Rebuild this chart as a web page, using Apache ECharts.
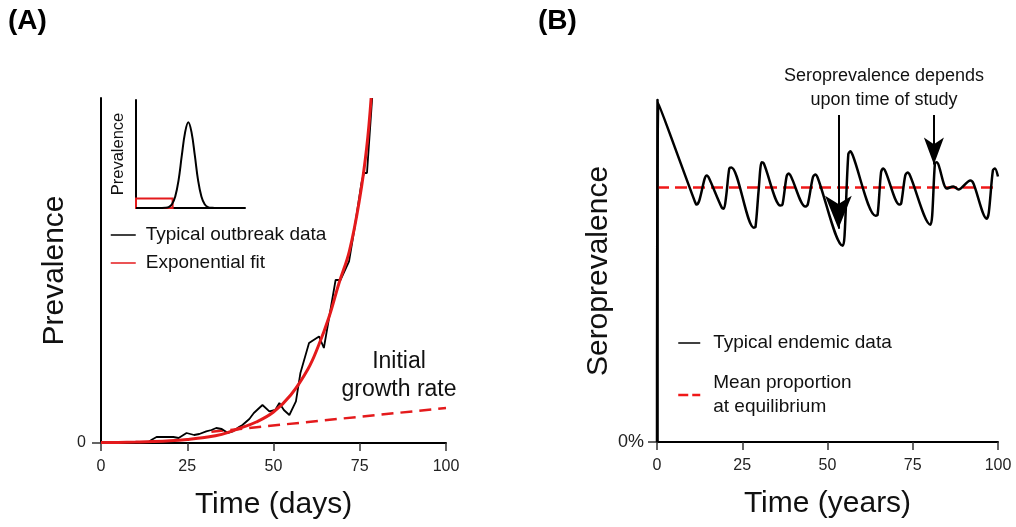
<!DOCTYPE html>
<html><head><meta charset="utf-8">
<script src="https://cdn.jsdelivr.net/npm/echarts@6/dist/echarts.min.js"></script>
<style>html,body{margin:0;padding:0;background:#fff}#c{width:1016px;height:527px}</style>
</head><body><div id="c"></div>
<script>
// ---------- data ----------
const xTicks = [0, 25, 50, 75, 100];

// Panel A: typical outbreak data [day, prevalence]
const outbreakData = [[0,0],[5,0.4],[10,0.8],[14,1.2],[14.7,3.3],[16.1,6],[21,6],[22.5,5],[24.8,10],[27,8],[28.5,9],[30.5,11.6],[32,13],[33.4,15],[35,14],[36.8,10],[38.2,11.6],[40,16],[41,18],[43,24],[44.3,30],[46.8,38],[48.8,31.6],[50.5,33],[51.7,40],[53,33],[54.6,28],[56.5,41.6],[57.8,70],[60.3,100],[63.2,106.6],[64.6,95],[68,163],[69.4,163],[71.9,181.6],[73.5,215],[75.5,260],[76.2,270],[77.1,270],[78.6,345]];
// Panel A: exponential fit
const expFit = [[0,0.4],[5,0.6],[10,1],[15,1.5],[20,2.3],[25,3.6],[30,5.5],[35,8.6],[40,14.5],[45,21],[50,31],[55,48],[60,74],[63,97],[66,125],[69,160],[72,192],[75,245],[77,295],[78.3,345]];
// Panel A: initial growth rate (dashed)
const growthLine = [[32,11.2],[100,35]];
// Panel A inset: whole epidemic curve
const insetCurve = [[0,0],[20,0],[27,0.3],[30,1.1],[33,4.4],[36,13.5],[39,32],[42,61],[45,88],[48,100],[51,88],[54,61],[57,32],[60,13.5],[63,4.4],[66,1.1],[70,0.2],[75,0],[100,0]];
const insetBox = [[0,0],[33.6,11]];

// Panel B: typical endemic data [year, seroprevalence]
const endemicData = [[0,0],[0.4,337],[11,240],[11.6,236],[12.4,240],[14,262],[14.6,265],[15.3,262],[19,233],[19.6,232],[20.3,245],[21.2,272],[21.8,273],[28.4,213],[28.9,214],[29.8,250],[30.7,278],[31.3,277],[36.2,235],[36.8,236],[38,264],[38.6,267],[39.3,264],[43.5,234],[44.2,236],[45.7,263],[46.4,266],[47.1,263],[54.5,195],[55,205],[56.1,286],[56.7,289],[57.4,285],[64.1,225],[64.7,226],[65.7,268],[66.3,272],[67,269],[71.1,236],[71.6,237],[72.8,265],[73.5,268],[74.2,265],[80.2,216],[80.7,225],[81.5,277],[82,278],[85,252],[86.9,254],[88.4,251],[91.9,260],[92.8,257],[96.7,222],[97.3,228],[98.5,270],[99.1,272],[100,264]];
const meanLevel = [[0,253],[100,253]];
const arrow1 = [[53.2,325],[53.2,212]];
const arrow2 = [[81.2,325],[81.2,276]];

// ---------- chart ----------
const FONT = "'Liberation Sans', Arial, Helvetica, sans-serif";
const RED_A = '#e41a1c';
const RED_B = '#f01818';
const chart = echarts.init(document.getElementById('c'), null, {renderer: 'canvas'});

function xAxisFor(grid, name) {
  return {
    type: 'value', gridIndex: grid, min: xTicks[0], max: xTicks[xTicks.length-1], interval: 25,
    axisLine: {show: true, onZero: false, lineStyle: {color: '#000', width: 2}},
    axisTick: {show: true, length: 8, lineStyle: {color: '#333', width: 1.5}},
    axisLabel: {fontSize: 16, color: '#222', margin: 16, fontFamily: FONT},
    splitLine: {show: false},
    name: name, nameLocation: 'middle', nameGap: 47,
    nameTextStyle: {fontSize: 30, color: '#111', fontFamily: FONT}
  };
}

const option = {
  animation: false,
  backgroundColor: '#fff',
  textStyle: {fontFamily: FONT},
  grid: [
    {left: 101, top: 98, width: 345, height: 345},
    {left: 136, top: 100, width: 109, height: 108},
    {left: 657, top: 100, width: 341, height: 342}
  ],
  xAxis: [
    xAxisFor(0, 'Time (days)'),
    {type: 'value', gridIndex: 1, min: 0, max: 100,
     axisLine: {show: true, onZero: false, lineStyle: {color: '#000', width: 2}},
     axisTick: {show: false}, axisLabel: {show: false}, splitLine: {show: false}},
    xAxisFor(2, 'Time (years)')
  ],
  yAxis: [
    {type: 'value', gridIndex: 0, min: 0, max: 345,
     axisLine: {show: true, lineStyle: {color: '#000', width: 2}},
     axisTick: {show: true, length: 9, customValues: [0], lineStyle: {color: '#333', width: 1.5}},
     axisLabel: {customValues: [0], fontSize: 16, color: '#222', margin: 15, fontFamily: FONT},
     splitLine: {show: false},
     name: 'Prevalence', nameLocation: 'middle', nameRotate: 90, nameGap: 31,
     nameTextStyle: {fontSize: 30, color: '#111', fontFamily: FONT}},
    {type: 'value', gridIndex: 1, min: 0, max: 126,
     axisLine: {show: true, lineStyle: {color: '#000', width: 2}},
     axisTick: {show: false}, axisLabel: {show: false}, splitLine: {show: false},
     name: 'Prevalence', nameLocation: 'middle', nameRotate: 90, nameGap: 9,
     nameTextStyle: {fontSize: 16.5, color: '#111', fontFamily: FONT}},
    {type: 'value', gridIndex: 2, min: 0, max: 340,
     axisLine: {show: true, lineStyle: {color: '#000', width: 2.5}},
     axisTick: {show: true, length: 9, customValues: [0], lineStyle: {color: '#333', width: 1.5}},
     axisLabel: {customValues: [0], formatter: v => v === 0 ? '0%' : '', fontSize: 18, color: '#222', margin: 13, fontFamily: FONT},
     splitLine: {show: false},
     name: 'Seroprevalence', nameLocation: 'middle', nameRotate: 90, nameGap: 42,
     nameTextStyle: {fontSize: 30, color: '#111', fontFamily: FONT}}
  ],
  legend: [
    {data: ['Typical outbreak data', 'Exponential fit'], orient: 'vertical', left: 110, top: 225,
     padding: 0, itemWidth: 25, itemHeight: 14, itemGap: 8, selectedMode: false,
     itemStyle: {opacity: 0},
     lineStyle: {width: 1.5},
     textStyle: {fontSize: 19, lineHeight: 20, color: '#111', fontFamily: FONT, padding: [0,0,0,5]}},
    {data: [{name: 'Typical endemic data'}, {name: 'Mean proportion\nat equilibrium', lineStyle: {type: [10,4], width: 2.5}}],
     orient: 'vertical', left: 677, top: 331,
     padding: 0, itemWidth: 22, itemHeight: 14, itemGap: 16, selectedMode: false,
     itemStyle: {opacity: 0},
     lineStyle: {width: 1.5},
     textStyle: {fontSize: 19, lineHeight: 24, color: '#111', fontFamily: FONT, padding: [0,0,0,8]}}
  ],
  series: [
    {name: 'Typical outbreak data', type: 'line', xAxisIndex: 0, yAxisIndex: 0, data: outbreakData,
     symbol: 'none', color: '#000', lineStyle: {color: '#000', width: 1.8}, z: 3},
    {name: 'Exponential fit', type: 'line', xAxisIndex: 0, yAxisIndex: 0, data: expFit, smooth: 0.4,
     symbol: 'none', color: RED_A, lineStyle: {color: RED_A, width: 3}, z: 4},
    {name: 'Initial growth rate', type: 'line', xAxisIndex: 0, yAxisIndex: 0, data: growthLine,
     symbol: 'none', color: RED_A, lineStyle: {color: RED_A, width: 2.5, type: [12, 7]}, z: 2},
    {name: 'Epidemic curve', type: 'line', xAxisIndex: 1, yAxisIndex: 1, data: insetCurve, smooth: 0.4,
     symbol: 'none', color: '#000', lineStyle: {color: '#000', width: 2},
     markArea: {silent: true, itemStyle: {color: 'rgba(0,0,0,0)', borderColor: RED_A, borderWidth: 2},
       data: [[{coord: insetBox[0]}, {coord: insetBox[1]}]]}},
    {name: 'Typical endemic data', type: 'line', xAxisIndex: 2, yAxisIndex: 2, data: endemicData, smooth: 0.3,
     symbol: 'none', color: '#000', lineStyle: {color: '#000', width: 2.5}, z: 3},
    {name: 'Mean proportion\nat equilibrium', type: 'line', xAxisIndex: 2, yAxisIndex: 2, data: meanLevel,
     symbol: 'none', color: RED_B, lineStyle: {color: RED_B, width: 2.5, type: [12, 6]}, z: 2},
    {name: 'arrow1', type: 'line', xAxisIndex: 2, yAxisIndex: 2, data: [], symbol: 'none',
     markLine: {silent: true, symbol: ['none', 'arrow'], symbolSize: [20, 33], label: {show: false},
       lineStyle: {color: '#000', width: 2, type: 'solid'},
       data: [[{coord: arrow1[0]}, {coord: arrow1[1]}]]}, z: 5},
    {name: 'arrow2', type: 'line', xAxisIndex: 2, yAxisIndex: 2, data: [], symbol: 'none',
     markLine: {silent: true, symbol: ['none', 'arrow'], symbolSize: [15, 27], label: {show: false},
       lineStyle: {color: '#000', width: 2, type: 'solid'},
       data: [[{coord: arrow2[0]}, {coord: arrow2[1]}]]}, z: 5}
  ],
  graphic: [
    {type: 'text', left: 8, top: 7, style: {text: '(A)', fill: '#000', font: 'bold 28px ' + FONT}},
    {type: 'text', left: 538, top: 7, style: {text: '(B)', fill: '#000', font: 'bold 28px ' + FONT}},
    {type: 'text', x: 399, y: 362, style: {text: 'Initial', fontSize: 23, fontFamily: FONT, fill: '#111', align: 'center', verticalAlign: 'middle'}},
    {type: 'text', x: 399, y: 390, style: {text: 'growth rate', fontSize: 23, fontFamily: FONT, fill: '#111', align: 'center', verticalAlign: 'middle'}},
    {type: 'text', x: 884, y: 76, style: {text: 'Seroprevalence depends', fontSize: 18, fontFamily: FONT, fill: '#111', align: 'center', verticalAlign: 'middle'}},
    {type: 'text', x: 884, y: 100, style: {text: 'upon time of study', fontSize: 18, fontFamily: FONT, fill: '#111', align: 'center', verticalAlign: 'middle'}}
  ]
};
chart.setOption(option);
</script>
</body></html>
